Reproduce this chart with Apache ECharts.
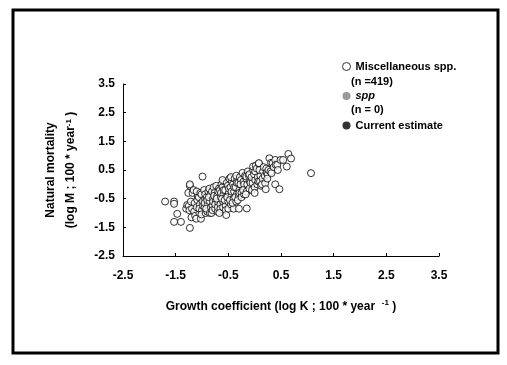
<!DOCTYPE html>
<html><head><meta charset="utf-8">
<script src="https://cdn.jsdelivr.net/npm/echarts@6/dist/echarts.min.js"></script>
<style>html,body{margin:0;padding:0;background:#fff}#c{width:507px;height:365px}</style>
</head><body><div id="c"></div>
<script>
// Tick labels
const xTicks = [-2.5, -1.5, -0.5, 0.5, 1.5, 2.5, 3.5];
const yTicks = [-2.5, -1.5, -0.5, 0.5, 1.5, 2.5, 3.5];
// Miscellaneous spp. points [log K, log M]
const miscX = [
 -1.70,-1.53,-1.53,-1.47,-1.53,-1.40,-1.23,-1.30,-1.28,
 -1.25,-1.24,-1.23,-1.23,-1.26,
 -1.20,-1.19,-1.21,-1.18,
 -1.15,-1.14,-1.16,-1.13,
 -1.10,-1.09,-1.11,-1.08,-1.10,
 -1.05,-1.04,-1.06,-1.03,-1.05,-1.02,
 -1.00,-0.99,-1.01,-0.99,-0.98,-1.01,
 -0.95,-0.94,-0.96,-0.93,-0.95,-0.94,
 -0.90,-0.89,-0.91,-0.88,-0.90,-0.92,
 -0.85,-0.84,-0.86,-0.83,-0.85,-0.87,
 -0.80,-0.79,-0.81,-0.78,-0.82,-0.80,-0.79,
 -0.75,-0.74,-0.76,-0.73,-0.75,-0.77,
 -0.70,-0.69,-0.71,-0.68,-0.70,-0.72,-0.69,
 -0.65,-0.64,-0.66,-0.63,-0.65,-0.67,-0.64,
 -0.60,-0.59,-0.61,-0.58,-0.60,-0.62,-0.59,-0.61,
 -0.55,-0.54,-0.56,-0.53,-0.55,-0.54,-0.57,
 -0.50,-0.49,-0.51,-0.48,-0.50,-0.52,-0.49,
 -0.45,-0.44,-0.46,-0.43,-0.45,-0.47,-0.44,
 -0.40,-0.39,-0.41,-0.38,-0.40,-0.42,-0.39,
 -0.35,-0.34,-0.36,-0.33,-0.35,-0.37,-0.34,
 -0.30,-0.29,-0.31,-0.28,-0.30,-0.32,-0.29,
 -0.25,-0.24,-0.26,-0.23,-0.25,-0.27,
 -0.20,-0.19,-0.21,-0.18,-0.20,-0.22,
 -0.15,-0.14,-0.16,-0.13,-0.15,-0.17,-0.16,
 -0.10,-0.09,-0.11,-0.08,-0.10,
 -0.05,-0.04,-0.06,-0.03,-0.03,
 0.00,0.01,-0.01,0.02,0.00,0.01,
 0.05,0.06,0.04,0.07,0.08,
 0.10,0.11,0.09,0.08,0.12,
 0.15,0.16,0.14,0.17,
 0.20,0.21,0.19,0.22,0.23,
 0.25,0.26,0.24,
 0.28,0.30,0.31,
 0.34,0.39,0.32,0.36,
 0.39,0.40,0.43,
 0.44,0.47,
 0.49,0.54,
 0.61,0.64,
 0.69,
 1.07
];
const miscY = [
 -0.60,-0.60,-0.68,-1.03,-1.31,-1.31,-1.52,-0.85,-0.72,
 -0.75,-0.90,-0.05,0.00,-0.30,
 -1.15,-0.85,-0.60,-0.30,
 -0.95,-0.65,-0.20,-1.10,
 -0.80,-0.55,-1.20,-0.40,-0.25,
 -1.00,-0.70,-0.45,-0.30,-0.85,-1.20,
 -0.90,-0.60,-0.35,0.27,-0.75,-1.05,
 -0.80,-0.50,-0.20,-1.00,-0.65,-0.35,
 -0.95,-0.70,-0.45,-0.25,-0.55,-0.85,
 -0.60,-0.35,-0.15,-0.80,-1.00,-0.45,
 -0.75,-0.50,-0.25,-0.10,-1.00,-0.90,-0.60,
 -0.85,-0.55,-0.30,-0.05,-0.70,-0.40,
 -0.95,-0.65,-0.40,-0.15,-0.80,-0.50,-0.25,
 -0.70,-0.45,-0.20,0.00,-0.85,-1.00,-0.30,
 -0.60,-0.35,-0.10,0.10,-0.80,-0.50,-0.20,0.15,
 -0.75,-0.45,-0.20,0.05,-0.90,-1.07,-0.55,
 -0.60,-0.30,-0.05,0.20,-0.85,-0.45,-0.15,
 -0.70,-0.40,-0.10,0.10,0.25,-0.55,-0.25,
 -0.50,-0.25,0.00,0.20,-0.85,-0.65,-0.10,
 -0.60,-0.35,-0.10,0.15,0.30,-0.45,0.05,
 -0.40,-0.20,0.05,0.25,-0.85,-0.55,-0.30,
 -0.30,-0.05,0.15,0.40,-0.45,0.00,
 -0.35,-0.10,0.10,0.30,0.00,-0.20,
 -0.25,0.00,0.20,0.45,-0.84,-0.35,0.27,
 -0.15,0.10,0.30,0.05,0.35,
 -0.20,0.05,0.25,0.50,0.62,
 -0.10,0.15,0.35,0.65,-0.30,0.45,
 0.00,0.25,0.55,0.10,0.72,
 0.10,0.30,0.50,0.74,-0.05,
 0.20,0.45,0.00,0.60,
 0.04,-0.17,0.30,0.55,0.40,
 0.35,0.50,0.20,
 0.91,0.45,0.75,
 0.74,0.85,0.39,0.60,
 0.00,0.68,0.68,
 0.50,-0.17,
 0.85,0.85,
 0.62,1.06,
 0.90,
 0.39
];
const sppX = [];
const sppY = [];
const currentX = [];
const currentY = [];

const pairs = (xs, ys) => xs.map((x, i) => [x, ys[i]]);
const F = 'Liberation Sans, Arial, sans-serif';
const chart = echarts.init(document.getElementById('c'), null, {renderer: 'canvas'});
chart.setOption({
  animation: false,
  backgroundColor: '#fff',
  textStyle: {fontFamily: F, fontWeight: 'bold', color: '#000'},
  grid: {left: 123, right: 68, top: 84, bottom: 109},
  xAxis: {
    type: 'value', min: xTicks[0], max: xTicks[xTicks.length - 1], interval: 1,
    axisLine: {onZero: false, lineStyle: {color: '#000', width: 1}},
    axisTick: {inside: true, length: 3, lineStyle: {color: '#000'}},
    axisLabel: {margin: 14, fontSize: 12, fontWeight: 'bold', color: '#000', fontFamily: F,
      formatter: v => v.toFixed(1)},
    splitLine: {show: false},
    name: '{n|Growth coefficient (log K ; 100 * year  }{s|-1}{n| )}',
    nameLocation: 'middle', nameGap: 43,
    nameTextStyle: {rich: {
      n: {fontSize: 12, fontWeight: 'bold', fontFamily: F, color: '#000'},
      s: {fontSize: 8, fontWeight: 'bold', fontFamily: F, color: '#000', verticalAlign: 'bottom', padding: [0, 0, 8, 0]}
    }}
  },
  yAxis: {
    type: 'value', min: yTicks[0], max: yTicks[yTicks.length - 1], interval: 1,
    axisLine: {show: true, onZero: false, lineStyle: {color: '#000', width: 1}},
    axisTick: {show: true, inside: true, length: 3, lineStyle: {color: '#000'}},
    axisLabel: {margin: 8, fontSize: 12, fontWeight: 'bold', color: '#000', fontFamily: F,
      formatter: v => v.toFixed(1)},
    splitLine: {show: false},
    name: '{n|Natural mortality}\n{n|(log M ; 100 * year}{s|-1}{n| )}',
    nameLocation: 'middle', nameRotate: 90, nameGap: 42,
    nameTextStyle: {lineHeight: 20, rich: {
      n: {fontSize: 12, fontWeight: 'bold', fontFamily: F, color: '#000', lineHeight: 20},
      s: {fontSize: 8, fontWeight: 'bold', fontFamily: F, color: '#000', verticalAlign: 'bottom', padding: [0, 0, 8, 0], lineHeight: 20}
    }}
  },
  legend: {
    orient: 'vertical', left: 337, top: 56, itemWidth: 8, itemHeight: 8, itemGap: 18.5,
    itemStyle: {borderWidth: 1},
    textStyle: {fontSize: 11, fontWeight: 'bold', fontFamily: F, color: '#000',
      rich: {i: {fontStyle: 'italic', fontSize: 11, fontWeight: 'bold', fontFamily: F, color: '#000'}}},
    formatter: n => n === 'spp' ? '{i|spp}' : n,
    data: [
      {name: 'Miscellaneous spp.', icon: 'circle', itemStyle: {color: '#fff', borderColor: '#000', borderWidth: 1}},
      {name: 'spp', icon: 'circle', itemStyle: {color: '#808080', borderWidth: 0}},
      {name: 'Current estimate', icon: 'circle', itemStyle: {color: '#000', borderWidth: 0}}
    ]
  },
  graphic: [
    {type: 'rect', shape: {x: 13, y: 10, width: 485, height: 343}, style: {fill: 'none', stroke: '#000', lineWidth: 3}, silent: true},
    {type: 'text', left: 351, top: 76, style: {text: '(n =419)', font: 'bold 11px ' + F, fill: '#000'}},
    {type: 'text', left: 351, top: 104, style: {text: '(n = 0)', font: 'bold 11px ' + F, fill: '#000'}}
  ],
  series: [
    {name: 'Miscellaneous spp.', type: 'scatter', symbol: 'circle', symbolSize: 7,
      itemStyle: {color: '#fff', borderColor: '#000', borderWidth: 1},
      data: pairs(miscX, miscY)},
    {name: 'spp', type: 'scatter', symbolSize: 7, itemStyle: {color: '#808080'}, data: pairs(sppX, sppY)},
    {name: 'Current estimate', type: 'scatter', symbolSize: 7, itemStyle: {color: '#000'}, data: pairs(currentX, currentY)}
  ]
});
</script></body></html>
